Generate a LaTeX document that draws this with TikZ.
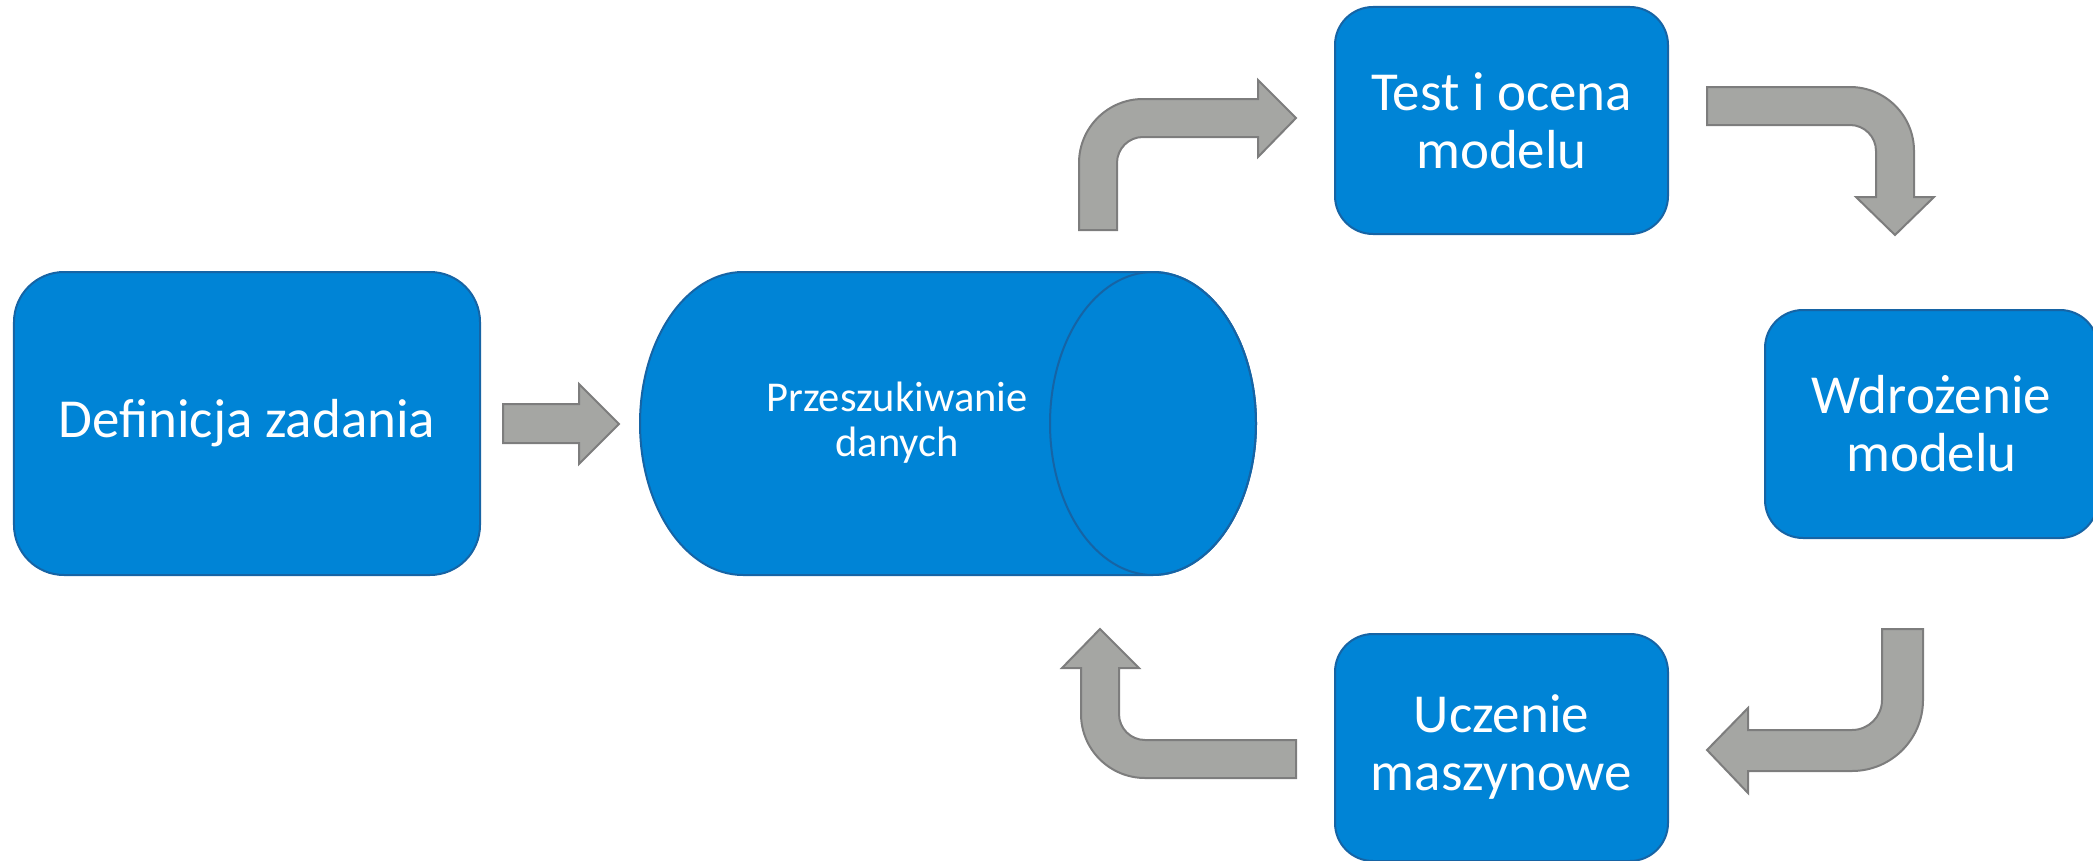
\documentclass[tikz,border=0pt]{standalone}
\usepackage{fontspec}
\setmainfont{Carlito}
\definecolor{boxblue}{RGB}{0,132,214}
\definecolor{boxline}{RGB}{22,100,165}
\definecolor{arrfill}{RGB}{165,166,163}
\definecolor{arrline}{RGB}{125,125,125}
\tikzset{
  stepbox/.style={draw=boxline, fill=boxblue, line width=2bp, rounded corners=38bp,
    text=white, align=center, inner sep=0pt, minimum width=333bp, minimum height=227bp,
    font=\fontsize{55bp}{58bp}\selectfont},
  blockarrow/.style={draw=arrline, fill=arrfill, line width=2bp, line join=miter},
  cylbody/.style={draw=boxline, fill=boxblue, line width=2bp}
}
\begin{document}
\begin{tikzpicture}[x=1bp, y=-1bp]
\useasboundingbox (0,0) rectangle (2093,861);

% boxes
\node[stepbox, minimum width=466bp, minimum height=303bp, rounded corners=50bp] (def) at (247,423.5) {Definicja zadania};
\node[stepbox] (test) at (1501.5,120.5) {Test i ocena\\modelu};
\node[stepbox, minimum height=228bp] (wdr) at (1931.5,424) {Wdrożenie\\modelu};
\node[stepbox] (ucz) at (1501.5,747.5) {Uczenie\\maszynowe};

% cylinder
\path[cylbody] (743,272) -- (1153,272)
  arc[start angle=-90, end angle=90, x radius=103, y radius=151.5]
  -- (743,575)
  arc[start angle=90, end angle=270, x radius=103, y radius=151.5] -- cycle;
\draw[boxline, line width=2bp] (1153,423.5) ellipse [x radius=103, y radius=151.5];
\node[text=white, align=center, font=\fontsize{42.5bp}{45bp}\selectfont] (cyl) at (897,423) {Przeszukiwanie\\danych};

% straight arrow
\path[blockarrow] (503,404) -- (579,404) -- (579,384) -- (619,424) -- (579,464) -- (579,443) -- (503,443) -- cycle;

% arrow up-right to test
\path[blockarrow] (1079,230) -- (1079,163)
  arc[start angle=180, end angle=270, radius=64]
  -- (1258,99) -- (1258,80) -- (1296,118) -- (1258,157) -- (1258,137) -- (1143,137)
  arc[start angle=270, end angle=180, radius=26]
  -- (1117,230) -- cycle;

% arrow right-down to wdrozenie
\path[blockarrow] (1707,87) -- (1850,87)
  arc[start angle=270, end angle=360, radius=64]
  -- (1914,197) -- (1934,197) -- (1895,235) -- (1856,197) -- (1876,197) -- (1876,151)
  arc[start angle=0, end angle=-90, radius=26]
  -- (1707,125) -- cycle;

% arrow down-left to uczenie
\path[blockarrow] (1882,629) -- (1923,629) -- (1923,700)
  arc[start angle=0, end angle=90, radius=71]
  -- (1748,771) -- (1748,793) -- (1707,750) -- (1748,708) -- (1748,730) -- (1852,730)
  arc[start angle=90, end angle=0, radius=30]
  -- cycle;

% arrow left-up to cylinder
\path[blockarrow] (1296,740) -- (1296,778) -- (1145,778)
  arc[start angle=90, end angle=180, radius=64]
  -- (1081,668) -- (1062,668) -- (1100,629) -- (1139,668) -- (1119,668) -- (1119,714)
  arc[start angle=180, end angle=90, radius=26]
  -- cycle;
\end{tikzpicture}
\end{document}
